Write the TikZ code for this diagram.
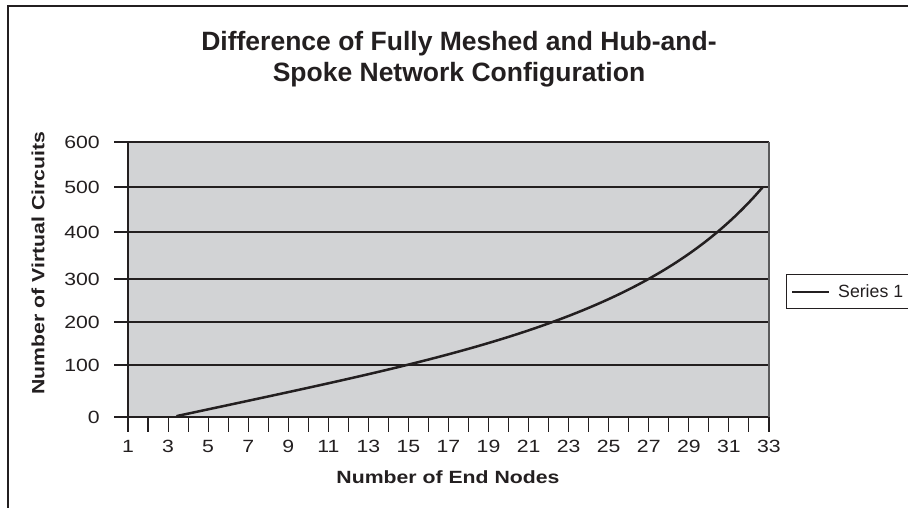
\documentclass[tikz,border=0pt]{standalone}
\usepackage{fontspec}
\setmainfont{Liberation Sans}
\newfontfamily\wideface[FakeStretch=1.2]{Liberation Sans}

\definecolor{inkblack}{RGB}{35,31,32}
\definecolor{plotgray}{RGB}{210,211,213}
\definecolor{edgegray}{RGB}{90,90,92}

\begin{document}
\begin{tikzpicture}[x=1pt,y=-1pt,
    ticklab/.style={font=\wideface\fontsize{17.7}{20}\selectfont, text=inkblack, inner sep=0pt},
    axtitle/.style={font=\wideface\bfseries\fontsize{17.7}{20}\selectfont, text=inkblack, inner sep=0pt},
    gridline/.style={draw=inkblack, line width=1.1pt}]

    \useasboundingbox (0,0) rectangle (908,508);

    % Outer frame (open to the right and bottom)
    \draw[inkblack, line width=2.6pt] (8,508) -- (8,6) -- (908,6);

    % Title
    \node[font=\bfseries\fontsize{26.5}{31}\selectfont, text=inkblack, anchor=base, inner sep=0pt]
        (title) at (459,51) {Difference of Fully Meshed and Hub-and-};
    \node[font=\bfseries\fontsize{26.5}{31}\selectfont, text=inkblack, anchor=base, inner sep=0pt]
        (title2) at (459,82) {Spoke Network Configuration};

    % Plot area
    \fill[plotgray] (128,142) rectangle (769,417);

    % Gridlines and value labels
    \foreach \val/\py in {0/417,100/365,200/322,300/279,400/232,500/187,600/142}{
        \draw[gridline] (114,\py) -- (769,\py);
        \node[ticklab, anchor=east] (ylab\val) at (100,\py) {\val};
    }
    \draw[edgegray, line width=1.8pt] (769,142) -- (769,417);
    \draw[gridline] (128,142) -- (128,417);

    % Category ticks and labels
    \foreach \k in {0,...,32}
        \draw[gridline] (128+\k*20.03,417) -- (128+\k*20.03,432);
    \foreach \k in {0,2,...,32}
        \node[ticklab] (xlab\k) at (128+\k*20.03,446.5) {\pgfmathparse{int(\k+1)}\pgfmathresult};

    % Axis titles
    \node[axtitle] (xtitle) at (448,477) {Number of End Nodes};
    \node[axtitle, rotate=90] (ytitle) at (38,263) {Number of Virtual Circuits};

    % Series 1
    \draw[inkblack, line width=2.5pt, line cap=round]
        plot[domain=0:1, samples=80, smooth] ({177+586*\x}, {416-(125.2*\x+80*\x^4+24*\x^10)});

    % Legend
    \draw[inkblack, line width=1pt] (786,274) rectangle (914,308);
    \draw[inkblack, line width=2.2pt] (792,292) -- (829,292);
    \node[font=\fontsize{17.7}{20}\selectfont, text=inkblack, inner sep=0pt, anchor=west]
        (legtext) at (838,291.5) {Series 1};

\end{tikzpicture}
\end{document}
